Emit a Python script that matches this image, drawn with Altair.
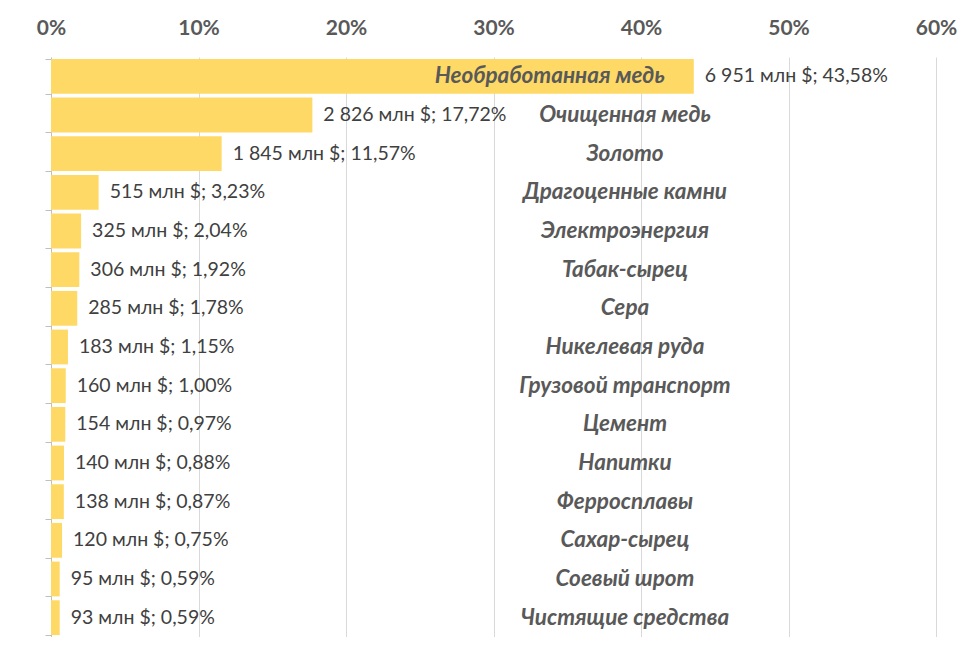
import altair as alt
import pandas as pd

categories = ["Необработанная медь", "Очищенная медь", "Золото", "Драгоценные камни",
              "Электроэнергия", "Табак-сырец", "Сера", "Никелевая руда",
              "Грузовой транспорт", "Цемент", "Напитки", "Ферросплавы",
              "Сахар-сырец", "Соевый шрот", "Чистящие средства"]
values_mln = [6951, 2826, 1845, 515, 325, 306, 285, 183, 160, 154, 140, 138, 120, 95, 93]
shares_pct = [43.58, 17.72, 11.57, 3.23, 2.04, 1.92, 1.78, 1.15, 1.00, 0.97, 0.88, 0.87, 0.75, 0.59, 0.59]
x_ticks = [0, 0.1, 0.2, 0.3, 0.4, 0.5, 0.6]


def fmt_mln(v):
    return f"{v:,}".replace(",", " ")


def fmt_pct(p):
    return f"{p:.2f}".replace(".", ",")


df = pd.DataFrame({
    "cat": categories,
    "share": [p / 100 for p in shares_pct],
    "label": [f"{fmt_mln(v)} млн $; {fmt_pct(p)}%" for v, p in zip(values_mln, shares_pct)],
    "rank": list(range(len(categories))),
})

FONT = "Lato"

y_enc = alt.Y("cat:N", sort=categories, title=None,
              scale=alt.Scale(paddingInner=0.1, paddingOuter=0.05),
              axis=alt.Axis(labels=False, ticks=True, tickBand="extent", tickSize=6,
                            tickColor="#bfbfbf", domainColor="#bfbfbf", grid=False))
x_enc = alt.X("share:Q", title=None,
              scale=alt.Scale(domain=[0, 0.6], nice=False),
              axis=alt.Axis(orient="top", values=x_ticks, format=".0%", domain=False,
                            ticks=False, labelPadding=19, labelFont=FONT, labelFontSize=21,
                            labelFontWeight="bold", labelColor="#595959", labelFlush=False,
                            gridColor="#d9d9d9", gridWidth=1))

base = alt.Chart(df)

bars = base.mark_bar(color="#FFD966").encode(x=x_enc, y=y_enc)

values = base.mark_text(align="left", baseline="middle", dx=11, font=FONT,
                        fontSize=19.5, color="#404040").encode(
    x="share:Q", y=alt.Y("cat:N", sort=categories), text="label:N")

cat_center = base.transform_filter("datum.rank > 0").mark_text(
    align="center", baseline="middle", font=FONT, fontSize=22.5, fontWeight="bold",
    fontStyle="italic", color="#595959").encode(
    x=alt.value(574), y=alt.Y("cat:N", sort=categories), text="cat:N")

cat_first = base.transform_filter("datum.rank == 0").mark_text(
    align="right", baseline="middle", dx=-29, font=FONT, fontSize=22.5, fontWeight="bold",
    fontStyle="italic", color="#595959").encode(
    x="share:Q", y=alt.Y("cat:N", sort=categories), text="cat:N")

chart = alt.layer(bars, values, cat_center, cat_first).properties(
    width=885, height=580, autosize=alt.AutoSizeParams(type="none"),
    padding={"left": 43, "top": 49, "right": 36, "bottom": 0}
).configure_view(stroke=None)

chart.save("out.html", embed_options={"renderer": "svg", "actions": False})
